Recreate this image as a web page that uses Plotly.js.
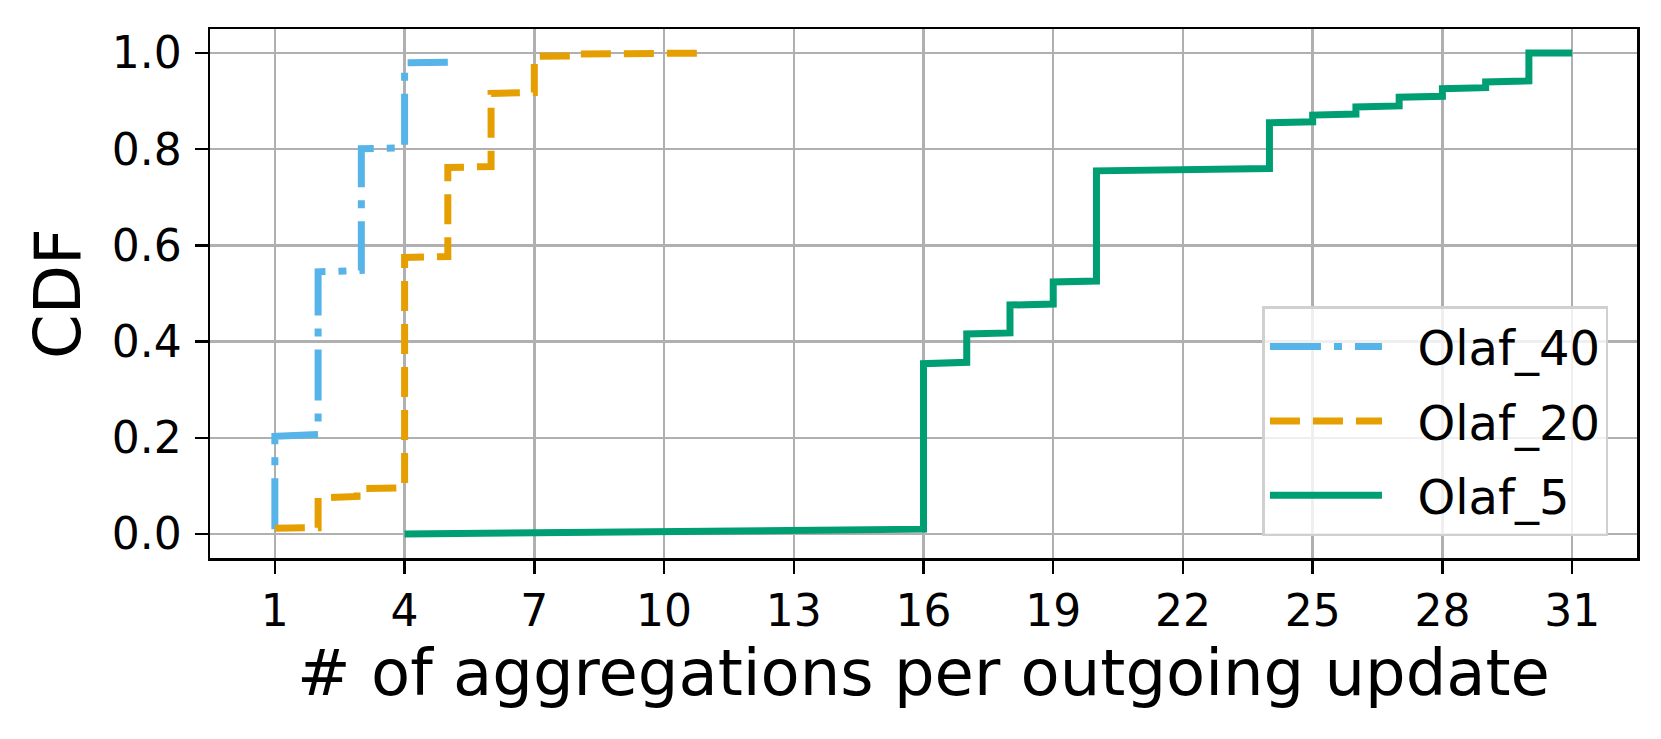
<!DOCTYPE html>
<html>
<head>
<meta charset="utf-8">
<script src="https://cdn.plot.ly/plotly-3.0.1.min.js"></script>
<style>
  body { margin: 0; background: #fff; }
  #chart { width: 1661px; height: 739px; }
</style>
</head>
<body>
<div id="chart"></div>
<script>
// step corners of each CDF curve (x = aggregations, y = cumulative fraction)
var olaf40X = [1, 1, 2, 2, 3, 3, 4, 4, 5];
var olaf40Y = [0.01, 0.203, 0.207, 0.545, 0.548, 0.801, 0.803, 0.98, 0.981];

var olaf20X = [1, 2, 2, 2.9, 2.9, 4, 4, 5, 5, 6, 6, 7, 7, 8, 8, 11];
var olaf20Y = [0.012, 0.013, 0.075, 0.078, 0.094, 0.096, 0.575, 0.577, 0.762, 0.764, 0.916, 0.918, 0.993, 0.994, 0.998, 1.0];

var olaf5X = [4, 15, 15, 16, 16, 17, 17, 18, 18, 19, 19, 20, 20, 24, 24, 25, 25, 26, 26, 27, 27, 28, 28, 29, 29, 30, 30, 31];
var olaf5Y = [0, 0.006, 0.008, 0.01, 0.354, 0.357, 0.416, 0.418, 0.476, 0.478, 0.524, 0.526, 0.755, 0.76, 0.855, 0.857, 0.871, 0.873, 0.888, 0.89, 0.908, 0.91, 0.926, 0.928, 0.94, 0.942, 1.0, 1.0];

var seriesNames = ["Olaf_40", "Olaf_20", "Olaf_5"];
var xTicks = [1, 4, 7, 10, 13, 16, 19, 22, 25, 28, 31];
var yTicks = [0, 0.2, 0.4, 0.6, 0.8, 1.0];

var font = "DejaVu Sans, sans-serif";
var pad = "\u00a0\u00a0"; // gap between legend line and label

var data = [
  {
    x: olaf40X, y: olaf40Y, name: pad + seriesNames[0], legendgroup: "a", mode: "lines", type: "scatter",
    line: { color: "#56B4E9", width: 7, dash: "51px,13px,8px,13px" }
  },
  {
    x: olaf20X, y: olaf20Y, name: pad + seriesNames[1], legendgroup: "b", mode: "lines", type: "scatter",
    line: { color: "#E69F00", width: 7, dash: "30px,13px" }
  },
  {
    x: olaf5X, y: olaf5Y, name: pad + seriesNames[2], legendgroup: "c", mode: "lines", type: "scatter",
    line: { color: "#009E73", width: 7 }
  }
];

var axisStyle = {
  showgrid: true, gridcolor: "#b0b0b0", gridwidth: 2.5,
  showline: true, linecolor: "#000", linewidth: 2.5, mirror: true,
  ticks: "outside", ticklen: 13, tickwidth: 2.5, tickcolor: "#000",
  zeroline: false,
  tickfont: { family: font, size: 44, color: "#000" }
};

var layout = {
  width: 1661, height: 739,
  margin: { l: 210, r: 24, t: 29, b: 181 },
  paper_bgcolor: "#fff", plot_bgcolor: "#fff",
  showlegend: true,
  xaxis: Object.assign({}, axisStyle, {
    range: [-0.5, 32.5], tickvals: xTicks,
    title: { text: "# of aggregations per outgoing update", font: { family: font, size: 64, color: "#000" }, standoff: 12 }
  }),
  yaxis: Object.assign({}, axisStyle, {
    range: [-0.05, 1.05], tickvals: yTicks, tickformat: ".1f",
    ticklabelstandoff: 4,
    title: { text: "CDF", font: { family: font, size: 64, color: "#000" }, standoff: 11 }
  }),
  legend: {
    x: 0.98, y: 0.041, xanchor: "right", yanchor: "bottom",
    bgcolor: "rgba(255,255,255,0.8)", bordercolor: "#d0d0d0", borderwidth: 2.5,
    font: { family: font, size: 48, color: "#000" },
    traceorder: "grouped", tracegroupgap: 9,
    itemwidth: 112
  }
};

Plotly.newPlot("chart", data, layout, { displayModeBar: false, staticPlot: true });
</script>
</body>
</html>
